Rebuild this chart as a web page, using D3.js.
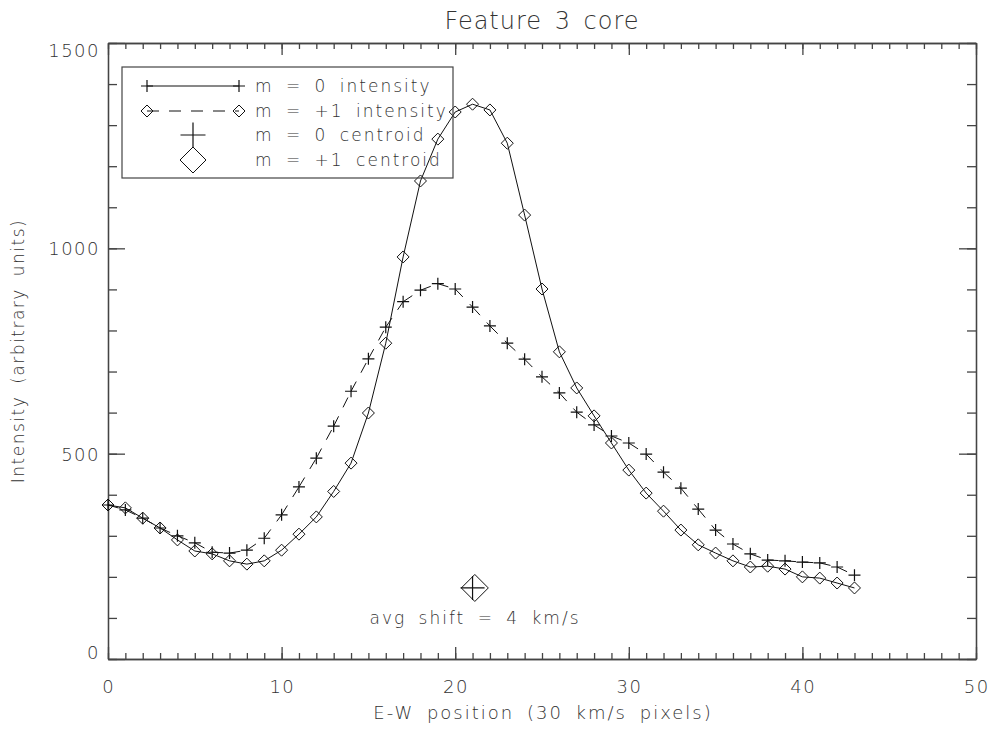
<!doctype html>
<html lang="en">
<head>
<meta charset="utf-8">
<script src="https://d3js.org/d3.v7.min.js"></script>
<style>
  body { margin:0; background:#fff; }
  text { font-family:"DejaVu Sans", sans-serif; font-weight:200; fill:#333; }
  .axis path, .axis line { stroke:#444; stroke-width:1.3; }
  .tick-label { font-size:18px; letter-spacing:1.5px; }
  .legend-text { font-size:17px; letter-spacing:2px; word-spacing:5px; }
</style>
</head>
<body>
<div id="chart"></div>
<script>
// E-W pixel index
let pixel = [0,1,2,3,4,5,6,7,8,9,10,11,12,13,14,15,16,17,18,19,20,21,
             22,23,24,25,26,27,28,29,30,31,32,33,34,35,36,37,38,39,40,41,42,43];
// m = 0 intensity (plus)
let m0Intensity = [375,363,343,319,300,283,260,258,265,294,351,419,489,567,652,731,808,870,898,914,901,
                   857,811,769,730,687,648,601,570,543,526,499,455,416,365,314,280,256,241,239,236,234,224,204];
// m = +1 intensity (diamond)
let m1Intensity = [375,368,343,319,290,263,256,239,231,239,265,304,346,408,477,599,769,979,1164,1266,1332,
                   1351,1337,1256,1081,901,748,660,592,526,460,404,360,314,278,258,239,224,226,219,200,197,185,173];
let centroidX = [21.0, 21.13];   // m = 0, m = +1
let centroidY = 173;
let xTicks = [0,10,20,30,40,50];
let yTicks = [0,500,1000,1500];
let legendLabels = ["m = 0 intensity","m = +1 intensity","m = 0 centroid","m = +1 centroid"];

let W = 995, H = 729;
let pLeft = 108, pRight = 976, pTop = 43, pBottom = 659;

let svg = d3.select("#chart").append("svg")
            .attr("width", W).attr("height", H);

let xScale = d3.scaleLinear().domain([0,50]).range([pLeft,pRight]);
let yScale = d3.scaleLinear().domain([0,1500]).range([pBottom,pTop]);

function plus(s){ return `M${-s},0H${s}M0,${-s}V${s}`; }
function diamond(s){ return `M0,${-s}L${s},0L0,${s}L${-s},0Z`; }

// ---- axes (IDL style box, ticks inward) ----
let xMinor = d3.range(0,51,1), yMinor = d3.range(0,1501,100);

function xAxes(gen, yPos, len, vals){
  svg.append("g").attr("class","axis")
     .attr("transform",`translate(0,${yPos})`)
     .call(gen(xScale).tickValues(vals).tickSize(len).tickSizeOuter(0).tickFormat(""));
}
function yAxes(gen, xPos, len, vals){
  svg.append("g").attr("class","axis")
     .attr("transform",`translate(${xPos},0)`)
     .call(gen(yScale).tickValues(vals).tickSize(len).tickSizeOuter(0).tickFormat(""));
}
xAxes(d3.axisBottom, pBottom, -6, xMinor);
xAxes(d3.axisBottom, pBottom, -12, xTicks);
xAxes(d3.axisTop, pTop, -6, xMinor);
xAxes(d3.axisTop, pTop, -12, xTicks);
yAxes(d3.axisLeft, pLeft, -9, yMinor);
yAxes(d3.axisLeft, pLeft, -17, yTicks);
yAxes(d3.axisRight, pRight, -9, yMinor);
yAxes(d3.axisRight, pRight, -17, yTicks);
svg.selectAll(".axis text").remove();

svg.selectAll(".xlab").data(xTicks).enter().append("text")
   .attr("class","tick-label")
   .attr("x", d => xScale(d) + 0.75)
   .attr("y", 693)
   .attr("text-anchor","middle")
   .text(d => d);

svg.selectAll(".ylab").data(yTicks).enter().append("text")
   .attr("class","tick-label")
   .attr("x", pLeft - 8)
   .attr("y", d => Math.min(Math.max(yScale(d) + 7, pTop + 14), pBottom))
   .attr("text-anchor","end")
   .text(d => d);

// titles
svg.append("text").attr("x", 542).attr("y", 29)
   .attr("text-anchor","middle")
   .style("font-size","24px").style("letter-spacing","1px").style("word-spacing","4px")
   .text("Feature 3 core");

svg.append("text").attr("x", 543).attr("y", 719)
   .attr("text-anchor","middle")
   .style("font-size","18px").style("letter-spacing","2px").style("word-spacing","5px")
   .text("E-W position (30 km/s pixels)");

svg.append("text")
   .attr("transform",`translate(24,${(pTop+pBottom)/2}) rotate(-90)`)
   .attr("text-anchor","middle")
   .style("font-size","17px").style("letter-spacing","1.5px").style("word-spacing","5px")
   .text("Intensity (arbitrary units)");

// ---- data ----
let m0Pts = pixel.map((p,i) => [xScale(p), yScale(m0Intensity[i])]);
let m1Pts = pixel.map((p,i) => [xScale(p), yScale(m1Intensity[i])]);

let line = d3.line();

svg.append("path").attr("d", line(m1Pts))
   .attr("fill","none").attr("stroke","#111").attr("stroke-width",1);

// dashed pattern restarts on every segment
d3.pairs(m0Pts).forEach(function(seg){
  svg.append("path").attr("d", line(seg))
     .attr("fill","none").attr("stroke","#111").attr("stroke-width",1)
     .attr("stroke-dasharray","11,10");
});

svg.selectAll(".m1").data(m1Pts).enter().append("path")
   .attr("transform", d => `translate(${d[0]},${d[1]})`)
   .attr("d", diamond(6)).attr("fill","none").attr("stroke","#111").attr("stroke-width",1);

svg.selectAll(".m0").data(m0Pts).enter().append("path")
   .attr("transform", d => `translate(${d[0]},${d[1]})`)
   .attr("d", plus(6)).attr("fill","none").attr("stroke","#111").attr("stroke-width",1.2);

// centroids
svg.append("path")
   .attr("transform",`translate(${xScale(centroidX[1])},${yScale(centroidY)})`)
   .attr("d", diamond(13.5)).attr("fill","none").attr("stroke","#111").attr("stroke-width",1);
svg.append("path")
   .attr("transform",`translate(${xScale(centroidX[0])},${yScale(centroidY)})`)
   .attr("d", plus(12)).attr("fill","none").attr("stroke","#111").attr("stroke-width",1.2);

svg.append("text").attr("class","legend-text")
   .attr("x", 475).attr("y", 624).attr("text-anchor","middle")
   .text("avg shift = 4 km/s");

// ---- legend ----
let lg = svg.append("g");
lg.append("rect").attr("x",122).attr("y",67).attr("width",331).attr("height",111)
  .attr("fill","none").attr("stroke","#444").attr("stroke-width",1.2);

let rowY = [86, 111, 135, 160];

lg.append("line").attr("x1",147).attr("x2",239).attr("y1",rowY[0]).attr("y2",rowY[0])
  .attr("stroke","#111");
[147,239].forEach(function(px){
  lg.append("path").attr("transform",`translate(${px},${rowY[0]})`)
    .attr("d", plus(6)).attr("fill","none").attr("stroke","#111").attr("stroke-width",1.2);
});

lg.append("line").attr("x1",147).attr("x2",239).attr("y1",rowY[1]).attr("y2",rowY[1])
  .attr("stroke","#111").attr("stroke-dasharray","12,10");
[147,239].forEach(function(px){
  lg.append("path").attr("transform",`translate(${px},${rowY[1]})`)
    .attr("d", diamond(6)).attr("fill","none").attr("stroke","#111");
});

lg.append("path").attr("transform",`translate(193,${rowY[2]})`)
  .attr("d", plus(12.5)).attr("fill","none").attr("stroke","#111").attr("stroke-width",1.2);
lg.append("path").attr("transform",`translate(193,${rowY[3]})`)
  .attr("d", diamond(13)).attr("fill","none").attr("stroke","#111");

lg.selectAll(".lt").data(legendLabels).enter().append("text")
  .attr("class","legend-text")
  .attr("x", 255).attr("y", (d,i) => rowY[i] + 6)
  .text(d => d);
</script>
</body>
</html>
